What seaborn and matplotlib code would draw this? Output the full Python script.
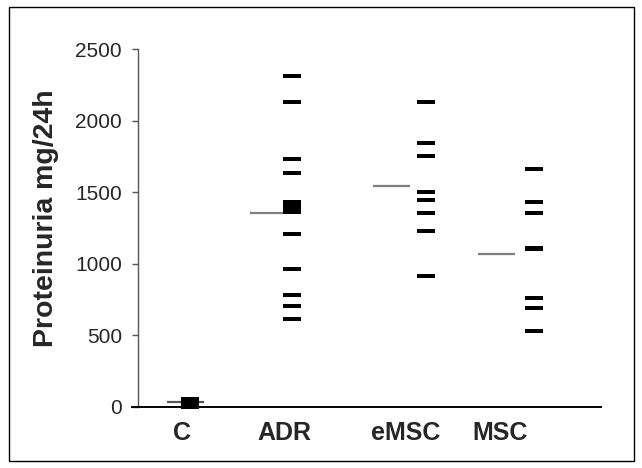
import numpy as np
import pandas as pd
import matplotlib
matplotlib.use("Agg")
import matplotlib.pyplot as plt
from matplotlib.patches import Rectangle
from matplotlib.path import Path
import seaborn as sns

# ---------------- data ----------------
groups = ["C", "ADR", "eMSC", "MSC"]
c_values = [0, 15, 30, 45, 57]
adr_values = [2315, 2134, 1735, 1633, 1432, 1410, 1385, 1362, 1206, 963, 783, 702, 611]
emsc_values = [2134, 1846, 1754, 1500, 1446, 1357, 1231, 916]
msc_values = [1665, 1430, 1353, 1112, 1104, 760, 693, 532]
group_means = [35, 1357, 1544, 1068]
y_ticks = [0, 500, 1000, 1500, 2000, 2500]
y_label = "Proteinuria mg/24h"

# ---------------- layout (pixel-like x units) ----------------
W, H, DPI = 642, 468, 100
ax_left_px, ax_right_px = 131.7, 600.7
ax_bottom_px, ax_top_px = 406.7, 49.3
yaxis_px = 137.7
dash_x = [189.5, 292, 426, 534]
mean_xmin = [167, 250, 373, 478]
mean_xmax = [204, 283, 410, 515]
label_x = [182, 284, 406, 500]

sns.set_theme(style="white")
plt.rcParams["font.family"] = ["Liberation Sans", "DejaVu Sans"]

fig = plt.figure(figsize=(W / DPI, H / DPI), dpi=DPI)
ax = fig.add_axes([ax_left_px / W, 1 - ax_bottom_px / H,
                   (ax_right_px - ax_left_px) / W, (ax_bottom_px - ax_top_px) / H])

rows = []
for g, xs, vals in zip(groups, dash_x, [c_values, adr_values, emsc_values, msc_values]):
    for v in vals:
        rows.append({"group": g, "x": xs, "value": v})
df = pd.DataFrame(rows)

r = 0.267
dash_marker = Path([(-1, -r), (1, -r), (1, r), (-1, r), (-1, -r)],
                   [Path.MOVETO, Path.LINETO, Path.LINETO, Path.LINETO, Path.CLOSEPOLY])
dash_w_pt = 18.7 * 72 / DPI

sns.scatterplot(data=df, x="x", y="value", marker=dash_marker, s=dash_w_pt ** 2,
                color="black", linewidth=0, ax=ax, clip_on=False, legend=False, zorder=3)

mean_colors = ["#555555", "#7f7f7f", "#7f7f7f", "#7f7f7f"]
ax.hlines(group_means, mean_xmin, mean_xmax, colors=mean_colors, linewidth=1.6, zorder=2)

ax.set_xlim(ax_left_px, ax_right_px)
ax.set_ylim(0, 2500)

ax.spines["top"].set_visible(False)
ax.spines["right"].set_visible(False)
ax.spines["left"].set_position(("data", yaxis_px))
ax.spines["left"].set_color("#555555")
ax.spines["left"].set_linewidth(1.0)
ax.spines["bottom"].set_color("black")
ax.spines["bottom"].set_linewidth(1.4)

ax.set_yticks(y_ticks)
ax.set_yticklabels([str(t) for t in y_ticks], fontsize=15)
ax.tick_params(axis="y", direction="out", length=4.3, width=1.0, color="#555555",
               pad=7, left=True)
ax.set_xticks(label_x)
ax.set_xticklabels(groups, fontsize=18, fontweight="bold")
ax.tick_params(axis="x", length=0, pad=10)

ax.set_xlabel("")
ax.set_ylabel(y_label, fontsize=20.5, fontweight="bold", va="center")
ax.yaxis.set_label_coords((46 - ax_left_px) / (ax_right_px - ax_left_px),
                          (ax_bottom_px - 218.5) / (ax_bottom_px - ax_top_px))
ax.grid(False)

fig.patches.append(Rectangle((9 / W, 1 - 461 / H), (634 - 9) / W, (461 - 7) / H,
                             transform=fig.transFigure, fill=False,
                             edgecolor="black", linewidth=1.0))

fig.savefig("out.png", dpi=DPI)
